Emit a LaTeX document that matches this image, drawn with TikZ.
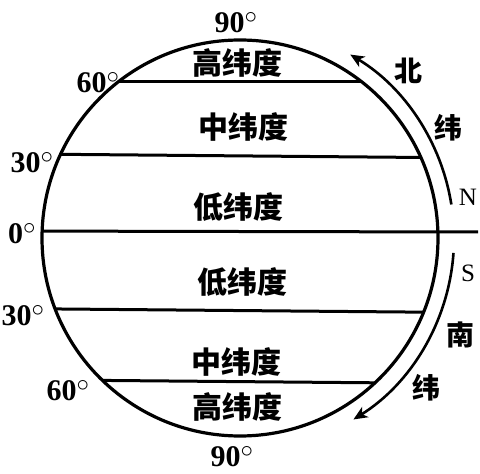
\documentclass[tikz,border=0pt]{standalone}
\usepackage{fontspec}
\setmainfont{Liberation Serif}
\newfontfamily\cjk{Noto Sans CJK SC}
\usetikzlibrary{arrows.meta,positioning}

\newcommand{\dg}{$^{\textstyle\circ}$}

\tikzset{
  globe/.style={circle, draw, line width=3.2pt, minimum size=396pt, inner sep=0pt, outer sep=0pt},
  lat/.style={line width=3pt},
  zone/.style={font=\cjk\bfseries\fontsize{30}{30}\selectfont, inner sep=0pt},
  deg/.style={font=\bfseries\fontsize{30}{30}\selectfont, inner sep=0pt, anchor=base},
  side/.style={font=\cjk\bfseries\fontsize{28}{28}\selectfont, inner sep=0pt},
  pole/.style={font=\fontsize{25}{25}\selectfont, inner sep=0pt},
  sweep/.style={line width=2.6pt, -{Stealth[length=14pt,width=12pt,inset=4pt]}},
}

\begin{document}
\begin{tikzpicture}[x=1pt,y=1pt]
	\useasboundingbox (0,0) rectangle (480,474);

	% the globe
	\node[globe] (g) at (240,236) {};

	% parallels
	\coordinate (eqe) at (478,242);
	\draw[lat] (g.178.3) -- (eqe);
	\draw[lat] (g.155.2) -- (g.24.8);
	\draw[lat] (g.128) -- (g.52);
	\draw[lat] (g.201.9) -- (g.338.1);
	\draw[lat] (g.226.7) -- (g.313.3);

	% degrees
	\node[deg] (d90n) at (236,441) {90\dg};
	\node[deg] (d60n) at (98,381) {60\dg};
	\node[deg] (d30n) at (32,301) {30\dg};
	\node[deg] (d0) at (22,230) {0\dg};
	\node[deg] (d30s) at (23,148) {30\dg};
	\node[deg] (d60s) at (68,73) {60\dg};
	\node[deg] (d90s) at (232,7) {90\dg};

	% zones
	\node[zone] (highn) at (237,411) {高纬度};
	\node[zone] (midn) at (243,347) {中纬度};
	\node[zone] (lown) at (238,267) {低纬度};
	\node[zone] (lows) at (242,192) {低纬度};
	\node[zone] (mids) at (236,112) {中纬度};
	\node[zone] (highs) at (237,67) {高纬度};

	% north and south
	\coordinate (ns) at ([shift={(9:214)}]g.center);
	\coordinate (ss) at ([shift={(-4:214)}]g.center);
	\draw[sweep] (ns) arc[start angle=9, end angle=59, radius=214];
	\draw[sweep] (ss) arc[start angle=-4, end angle=-58, radius=214];

	\node[side] (bei) at (408,403) {北};
	\node[side] (wein) at (448,346) {纬};
	\node[pole] (pn) at (468,277) {N};
	\node[pole] (ps) at (468,201) {S};
	\node[side] (nan) at (460,139) {南};
	\node[side] (weis) at (426,86) {纬};
\end{tikzpicture}
\end{document}
